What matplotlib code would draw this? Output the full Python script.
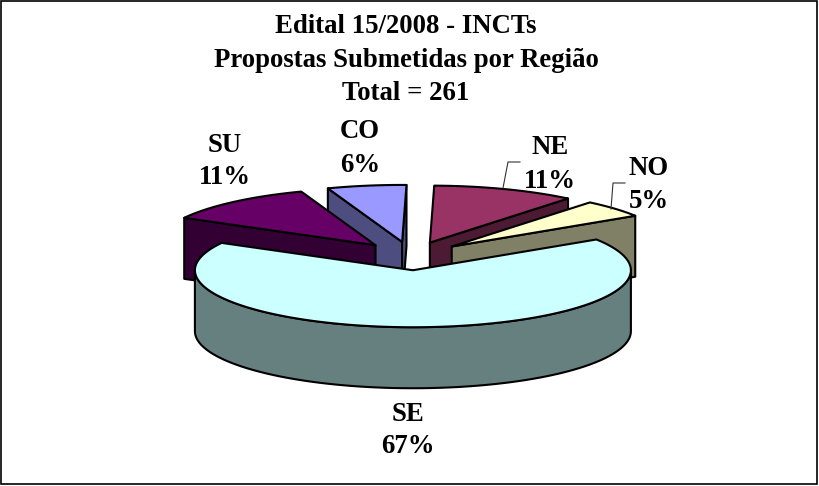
import numpy as np
import matplotlib
matplotlib.use('Agg')
import matplotlib.pyplot as plt
from matplotlib.patches import Polygon, Rectangle

regions = ['CO', 'NE', 'NO', 'SE', 'SU']
shares = [5.85, 10.6, 5.0, 67.0, 11.5]
share_labels = ['6%', '11%', '5%', '67%', '11%']
explode = [0.25, 0.25, 0.25, 0.25, 0.25]

title_lines = ['Edital 15/2008 - INCTs', 'Propostas Submetidas por Região', 'Total = 261']

top_colors = {'CO': '#9999ff', 'NE': '#993366', 'NO': '#ffffcc', 'SE': '#ccffff', 'SU': '#660066'}
side_colors = {'CO': '#4d4d80', 'NE': '#4d1a33', 'NO': '#808066', 'SE': '#668080', 'SU': '#330033'}

# Label positions in pixels (x, baseline of name, baseline of percent)
label_pos = {'CO': (360, 138, 172), 'NE': (550, 154, 188), 'NO': (649, 175, 208),
             'SE': (408, 421, 453), 'SU': (225, 152, 184)}

# Pie geometry in pixels

cx, cy = 411, 256
rx, ry = 218, 57
depth = 61
rotation = 2

fig = plt.figure(figsize=(8.19, 4.86), dpi=100)
ax = fig.add_axes([0, 0, 1, 1])
ax.set_xlim(0, 819)
ax.set_ylim(486, 0)
ax.axis('off')

# Frame around the chart

ax.add_patch(Rectangle((1, 1), 816, 483, fill=False, edgecolor='black', lw=1.2))

# Work out the angles so that the SE slice is about centred at the bottom

se_index = regions.index('SE')
sweeps = np.array(shares) / sum(shares) * 360
start = -90 + rotation + sweeps[se_index] / 2 + sum(sweeps[:se_index])
slices = {}
a = start
for name, sweep, ex in zip(regions, sweeps, explode):
    slices[name] = (a, a - sweep, ex)
    a = a - sweep


def rim(angle, apex):
    t = np.radians(angle)
    return apex[0] + rx * np.cos(t), apex[1] - ry * np.sin(t)


def draw_slice(name):
    a1, a2, ex = slices[name]
    mid = np.radians((a1 + a2) / 2)
    apex = (cx + ex * rx * np.cos(mid), cy - ex * ry * np.sin(mid))

    # Cut faces, only the ones turned towards the viewer
    for edge, normal in ((a1, a1 + 90), (a2, a2 - 90)):
        if np.sin(np.radians(normal)) < 0:
            p = rim(edge, apex)
            face = [apex, p, (p[0], p[1] + depth), (apex[0], apex[1] + depth)]
            ax.add_patch(Polygon(face, closed=True, facecolor=side_colors[name],
                                 edgecolor='black', lw=1.5, joinstyle='round'))

    # Outer wall, only the lower half of the ellipse shows
    angles = np.linspace(a2, a1, 120)
    shown = angles[np.sin(np.radians(angles)) <= 0.02]
    if len(shown) > 1:
        upper = [rim(v, apex) for v in shown]
        lower = [(x, y + depth) for x, y in upper]
        ax.add_patch(Polygon(upper + lower[::-1], closed=True, facecolor=side_colors[name],
                             edgecolor='black', lw=1.5, joinstyle='round'))

    # Top surface
    top = [apex] + [rim(v, apex) for v in np.linspace(a1, a2, 120)]
    ax.add_patch(Polygon(top, closed=True, facecolor=top_colors[name],
                         edgecolor='black', lw=1.5, joinstyle='round'))


# Back to front

for name in ['CO', 'SU', 'NE', 'NO', 'SE']:
    draw_slice(name)

# Leader lines

ax.plot([503, 508, 520], [188, 162, 162], color='#333333', lw=0.8)
ax.plot([611, 613, 625], [209, 183, 183], color='#333333', lw=0.8)

# Text

font = dict(family='Liberation Serif', fontweight='bold', fontsize=19.3, color='black',
            ha='center', va='baseline')

for line, y in zip(title_lines, [33, 67, 100]):
    ax.text(406, y, line, **font)

for name, label in zip(regions, share_labels):
    x, y1, y2 = label_pos[name]
    ax.text(x, y1, name, **font)
    ax.text(x, y2, label, **font)

plt.savefig('out.png', dpi=100)
